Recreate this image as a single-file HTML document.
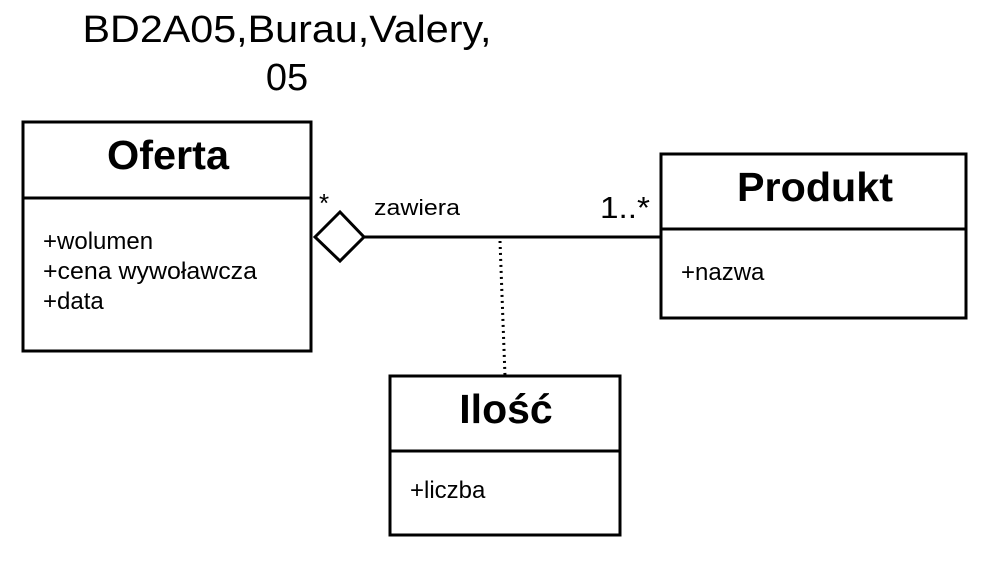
<!DOCTYPE html>
<html><head><meta charset="utf-8"><style>body{margin:0;background:#fff}</style></head>
<body>
<svg width="981" height="556" xmlns="http://www.w3.org/2000/svg" font-family="Liberation Sans, sans-serif">
<rect width="981" height="556" fill="#fff"/>
<text x="287" y="42" font-size="38" text-anchor="middle" textLength="409" lengthAdjust="spacingAndGlyphs">BD2A05,Burau,Valery,</text>
<text x="287" y="90" font-size="38" text-anchor="middle">05</text>
<g fill="none" stroke="#000" stroke-width="3">
<rect x="23" y="122" width="288" height="229"/>
<line x1="23" y1="198" x2="311" y2="198"/>
<rect x="661" y="154" width="305" height="164"/>
<line x1="661" y1="229" x2="966" y2="229"/>
<rect x="390" y="376" width="230" height="159"/>
<line x1="390" y1="451" x2="620" y2="451"/>
<line x1="364" y1="237" x2="661" y2="237"/>
<polygon points="315,237 340,212 364,237 340,261"/>
</g>
<path d="M500,241 L505,376" stroke="#000" stroke-width="3" stroke-dasharray="2,4" fill="none"/>
<g font-size="41" font-weight="bold" text-anchor="middle">
<text x="168" y="169" textLength="122" lengthAdjust="spacingAndGlyphs">Oferta</text>
<text x="815" y="201" textLength="156" lengthAdjust="spacingAndGlyphs">Produkt</text>
<text x="506" y="423">Ilość</text>
</g>
<g font-size="24">
<text x="43" y="249">+wolumen</text>
<text x="43" y="279" textLength="214" lengthAdjust="spacingAndGlyphs">+cena wywoławcza</text>
<text x="43" y="309">+data</text>
<text x="681" y="280">+nazwa</text>
<text x="410" y="498">+liczba</text>
<text x="374" y="215" font-size="22" textLength="86" lengthAdjust="spacingAndGlyphs">zawiera</text>
<text x="319" y="212" font-size="26">*</text>
<text x="600" y="218" font-size="31" textLength="50" lengthAdjust="spacingAndGlyphs">1..*</text>
</g>
</svg>
</body></html>
